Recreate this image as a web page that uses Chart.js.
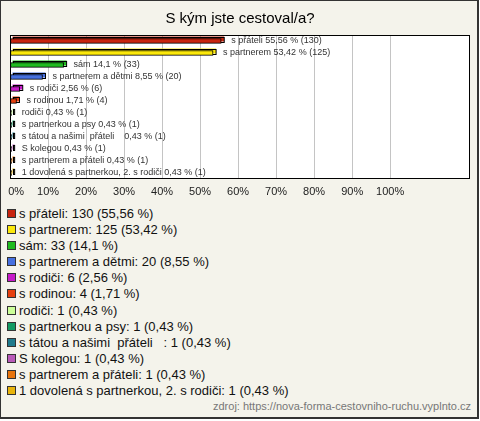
<!DOCTYPE html>
<html>
<head>
<meta charset="utf-8">
<script src="https://cdn.jsdelivr.net/npm/chart.js@4.4.0/dist/chart.umd.min.js"></script>
<style>
  body { margin: 0; background: #fff; font-family: "Liberation Sans", Arial, sans-serif; }
  #box {
    position: absolute; left: 0; top: 0; width: 476px; height: 416px;
    background: #f4f3eb; border: 1px solid #333; border-right-width: 2px; border-bottom-width: 2px;
  }
  #chart { position: absolute; left: 0; top: 0; }
  #legend { position: absolute; left: 7px; top: 206px; font-size: 13px; color: #111; }
  .row { height: 16.1px; line-height: 16.1px; white-space: pre; }
  .sw { display: inline-block; width: 7px; height: 7px; border: 1px solid #333; margin-right: 3px; vertical-align: -0px; }
  #src { position: absolute; right: 9px; top: 400px; font-size: 11px; color: #777; }
</style>
</head>
<body>
<div id="box"></div>
<canvas id="chart" width="480" height="204"></canvas>
<div id="legend"></div>
<div id="src">zdroj: https://nova-forma-cestovniho-ruchu.vyplnto.cz</div>
<script>
// data
const categories = ['s přáteli', 's partnerem', 'sám', 's partnerem a dětmi', 's rodiči', 's rodinou',
  'rodiči', 's partnerkou a psy', 's tátou a našimi  přáteli   ', 'S kolegou', 's partnerem a přáteli',
  '1 dovolená s partnerkou, 2. s rodiči'];
const percents = [55.56, 53.42, 14.1, 8.55, 2.56, 1.71, 0.43, 0.43, 0.43, 0.43, 0.43, 0.43];
const counts = [130, 125, 33, 20, 6, 4, 1, 1, 1, 1, 1, 1];
const colors = ['#c8250f', '#fbe80a', '#1fbb1f', '#4670e0', '#c61bc9', '#e5400f',
  '#ccff99', '#129a63', '#1f7a8c', '#b95ab9', '#e8740c', '#e8b40c'];
const xTicks = [0, 10, 20, 30, 40, 50, 60, 70, 80, 90, 100];

const fmt = v => String(v).replace('.', ',');

// legend below the chart
const legend = document.getElementById('legend');
categories.forEach((c, i) => {
  const row = document.createElement('div');
  row.className = 'row';
  row.innerHTML = '<span class="sw" style="background:' + colors[i] + '"></span>' +
    c + ': ' + counts[i] + ' (' + fmt(percents[i]) + ' %)';
  legend.appendChild(row);
});

// white plot area with black frame
const plotArea = {
  id: 'plotArea',
  beforeDraw(chart) {
    const a = chart.chartArea, ctx = chart.ctx;
    ctx.save();
    ctx.fillStyle = '#fff';
    ctx.fillRect(a.left, a.top, a.right - a.left, a.bottom - a.top);
    ctx.restore();
  },
  afterDatasetsDraw(chart) {
    const a = chart.chartArea, ctx = chart.ctx;
    ctx.save();
    ctx.strokeStyle = '#000';
    ctx.lineWidth = 1;
    ctx.strokeRect(a.left + 0.5, a.top + 0.5, a.right - a.left - 1, a.bottom - a.top - 1);
    ctx.restore();
  }
};

// fake 3d: a shifted copy behind each bar
const bar3d = {
  id: 'bar3d',
  beforeDatasetsDraw(chart) {
    const ctx = chart.ctx;
    const meta = chart.getDatasetMeta(0);
    ctx.save();
    meta.data.forEach((el, i) => {
      const p = el.getProps(['x', 'y', 'base', 'height']);
      const top = p.y - p.height / 2;
      ctx.fillStyle = colors[i];
      ctx.fillRect(p.base + 2, top - 2, p.x - p.base + 1, p.height);
      ctx.strokeStyle = '#000';
      ctx.lineWidth = 1;
      ctx.strokeRect(Math.round(p.base) + 2.5, Math.round(top) - 1.5, Math.max(p.x - p.base, 1), p.height);
    });
    ctx.restore();
  }
};

// text after each bar
const barText = {
  id: 'barText',
  afterDatasetsDraw(chart) {
    const ctx = chart.ctx;
    const meta = chart.getDatasetMeta(0);
    ctx.save();
    ctx.font = '9px "Liberation Sans", Arial';
    ctx.fillStyle = '#333';
    ctx.textBaseline = 'middle';
    meta.data.forEach((el, i) => {
      const txt = categories[i] + ' ' + fmt(percents[i]) + ' % (' + counts[i] + ')';
      ctx.fillText(txt, el.x + 10, el.y);
    });
    ctx.restore();
  }
};

new Chart(document.getElementById('chart'), {
  type: 'bar',
  data: {
    labels: categories,
    datasets: [{
      data: percents,
      backgroundColor: colors,
      borderColor: '#000',
      borderWidth: 1,
      borderSkipped: false,
      barThickness: 5
    }]
  },
  options: {
    indexAxis: 'y',
    responsive: false,
    animation: false,
    layout: { padding: { left: 10, right: 10, bottom: 5 } },
    plugins: {
      legend: { display: false },
      tooltip: { enabled: false },
      title: {
        display: true,
        text: 'S kým jste cestoval/a?',
        color: '#000',
        font: { family: '"Liberation Sans", Arial', size: 15, weight: 'normal' },
        padding: { top: 10, bottom: 7 }
      }
    },
    scales: {
      x: {
        min: 0,
        max: 121,
        afterBuildTicks(scale) { scale.ticks = xTicks.map(v => ({ value: v })); },
        afterFit(scale) {
          scale.height = 20;
          scale.paddingLeft = 0;
          scale.paddingRight = 0;
        },
        ticks: {
          callback: v => (v === 0 ? '    ' : '') + v + '%',
          color: '#222',
          font: { family: '"Liberation Sans", Arial', size: 11 },
          padding: 6,
          maxRotation: 0,
          autoSkip: false
        },
        grid: {
          color: ctx => (ctx.tick && ctx.tick.value > 0) ? '#c4c4c4' : 'rgba(0,0,0,0)',
          drawTicks: false
        },
        border: { display: false }
      },
      y: {
        display: false
      }
    }
  },
  plugins: [plotArea, bar3d, barText]
});
</script>
</body>
</html>
